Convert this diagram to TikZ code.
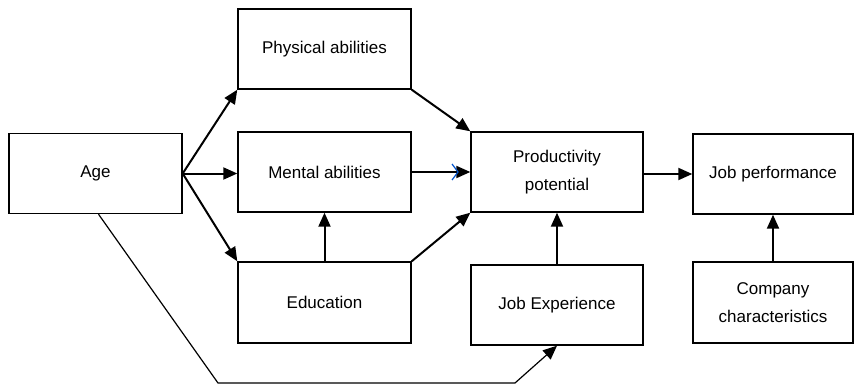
\documentclass[tikz,border=0pt]{standalone}
\usepackage{fontspec}
\setmainfont{Liberation Sans}
\usetikzlibrary{arrows.meta}
\tikzset{
  box/.style={draw, line width=1.4pt, inner sep=0pt, align=center,
    font=\fontsize{17}{28}\selectfont},
  arr/.style={line width=2pt, -{Triangle[length=14pt,width=12pt]}},
  thinarr/.style={line width=1.2pt, -{Triangle[length=14pt,width=12pt]}},
  chevron/.style={draw=blue!60!cyan!80!black, line width=1.2pt},
}
\begin{document}
\begin{tikzpicture}[x=1pt,y=-1pt]
\useasboundingbox (0,0) rectangle (856,385);
\node[box, minimum width=173pt, minimum height=80pt] (age) at (95.5,173.5) {Age};
\node[box, minimum width=173pt, minimum height=80pt] (phys) at (324.5,49) {Physical abilities};
\node[box, minimum width=173pt, minimum height=80pt] (mental) at (324.5,172) {Mental abilities};
\node[box, minimum width=173pt, minimum height=81pt] (edu) at (324.5,302.5) {Education};
\node[box, minimum width=172pt, minimum height=80pt] (prod) at (557,172) {Productivity\\potential};
\node[box, minimum width=172pt, minimum height=80pt] (jobexp) at (557,305) {Job Experience};
\node[box, minimum width=160pt, minimum height=80pt] (jobperf) at (773,174) {Job performance};
\node[box, minimum width=160pt, minimum height=81pt] (company) at (773,302.5) {Company\\characteristics};

\draw[arr] (age.east) -- (phys.south west);
\draw[arr] (age.east) -- (age.east -| mental.west);
\draw[arr] (age.east) -- (edu.north west);
\draw[arr] (phys.south east) -- (prod.north west);
\draw[arr] (mental.east) -- (prod.west);
\draw[arr] (edu.north east) -- (prod.south west);
\draw[arr] (edu.north) -- (mental.south);
\draw[arr] (jobexp.north) -- (prod.south);
\draw[arr] (company.north) -- (jobperf.south);
\draw[arr] (prod.east |- jobperf.west) -- (jobperf.west);

\coordinate (chev) at (458,172);
\draw[chevron] ([shift={(-6,-8)}]chev) -- (chev) -- ([shift={(-6,8)}]chev);

\coordinate (c1) at (218,383);
\coordinate (c2) at (515,383);
\draw[thinarr] ([xshift=3pt]age.south) -- (c1) -- (c2) -- (jobexp.south);
\end{tikzpicture}
\end{document}
